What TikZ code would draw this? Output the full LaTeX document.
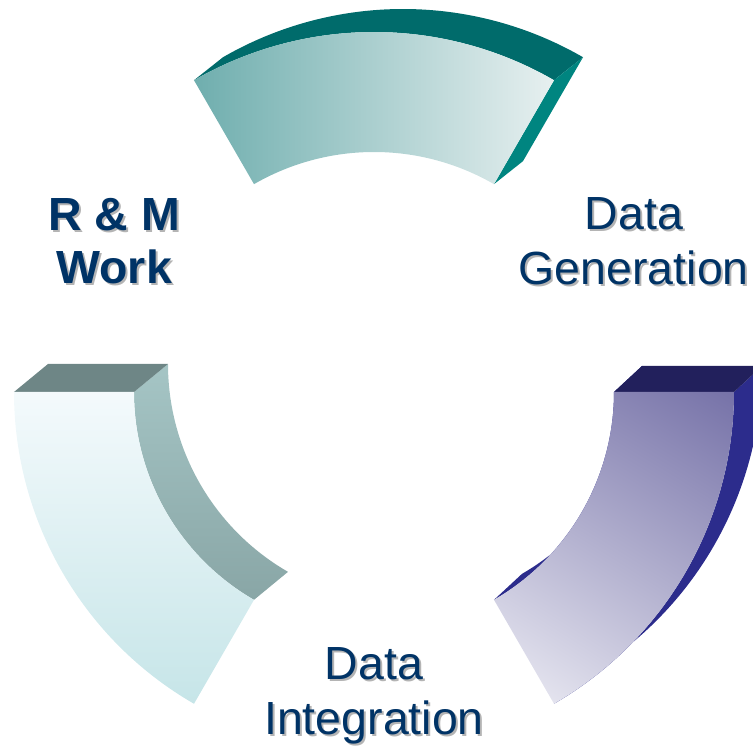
\documentclass[tikz,border=0pt]{standalone}
\usepackage{fontspec}
\newfontfamily\labelfont{Liberation Sans}
\usetikzlibrary{shadings}
\definecolor{CycleNavy}{RGB}{0, 51, 102}
\definecolor{CycleShade}{RGB}{180, 180, 180}
\definecolor{TealDark}{RGB}{0, 107, 107}
\definecolor{TealSide}{RGB}{0, 133, 128}
\definecolor{TealLeft}{RGB}{111, 174, 174}
\definecolor{TealRight}{RGB}{231, 240, 240}
\definecolor{MistTop}{RGB}{244, 250, 252}
\definecolor{MistBottom}{RGB}{198, 229, 232}
\definecolor{SlateTop}{RGB}{110, 134, 134}
\definecolor{SlateInTop}{RGB}{165, 197, 197}
\definecolor{SlateInBottom}{RGB}{137, 166, 166}
\definecolor{IndigoTop}{RGB}{34, 32, 92}
\definecolor{IndigoSide}{RGB}{44, 44, 140}
\definecolor{IndigoDeep}{RGB}{118, 114, 168}
\definecolor{IndigoPale}{RGB}{238, 238, 245}
\newcommand{\shadowed}[1]{\makebox[0pt][l]{\hspace{2pt}\raisebox{-2pt}{\color{CycleShade}#1}}#1}

\begin{document}
\begin{tikzpicture}[
  x=1pt, y=1pt,
  cyclelabel/.style={font={\labelfont\fontsize{46.5}{55}\selectfont}, text=CycleNavy, align=center, inner sep=0pt},
  boldlabel/.style={cyclelabel, font={\labelfont\fontsize{46.5}{53}\selectfont\bfseries}}
]
\useasboundingbox (-374,-358) rectangle (379,392);

% top piece
\fill[TealDark] (60:360) arc[start angle=60, end angle=120, radius=360] -- ++(29,23) arc[start angle=120, end angle=60, radius=360] -- cycle;
\fill[TealSide] (60:240) -- (60:360) -- ++(29,23) -- ++(240:120) -- cycle;
\shade[left color=TealLeft, right color=TealRight] (60:360) arc[start angle=60, end angle=120, radius=360] -- (120:240) arc[start angle=120, end angle=60, radius=240] -- cycle;

% left piece
\shade[top color=SlateInTop, bottom color=SlateInBottom] (180:240) arc[start angle=180, end angle=240, radius=240] -- ++(34,28) arc[start angle=240, end angle=180, radius=240] -- cycle;
\fill[SlateTop] (180:360) -- (180:240) -- ++(34,28) -- ++(180:120) -- cycle;
\shade[top color=MistTop, bottom color=MistBottom] (180:360) arc[start angle=180, end angle=240, radius=360] -- (240:240) arc[start angle=240, end angle=180, radius=240] -- cycle;

% right piece
\fill[IndigoSide] (300:240) arc[start angle=300, end angle=360, radius=240] -- ++(28,26) arc[start angle=360, end angle=300, radius=240] -- cycle;
\fill[IndigoSide] (300:360) arc[start angle=300, end angle=360, radius=360] -- ++(28,26) arc[start angle=360, end angle=300, radius=360] -- cycle;
\fill[IndigoTop] (0:240) -- (0:360) -- ++(28,26) -- ++(180:120) -- cycle;
\shade[upper right=IndigoDeep, lower left=IndigoPale, upper left=IndigoDeep!70!IndigoPale, lower right=IndigoDeep!35!IndigoPale] (300:360) arc[start angle=300, end angle=360, radius=360] -- (0:240) arc[start angle=360, end angle=300, radius=240] -- cycle;

% labels
\node[boldlabel] (rmwork) at (150:300) {\shadowed{R \& M}\\\shadowed{Work}};
\node[cyclelabel] (datagen) at (30:300) {\shadowed{Data}\\\shadowed{Generation}};
\node[cyclelabel] (dataint) at (270:305) {\shadowed{Data}\\\shadowed{Integration}};
\end{tikzpicture}
\end{document}
